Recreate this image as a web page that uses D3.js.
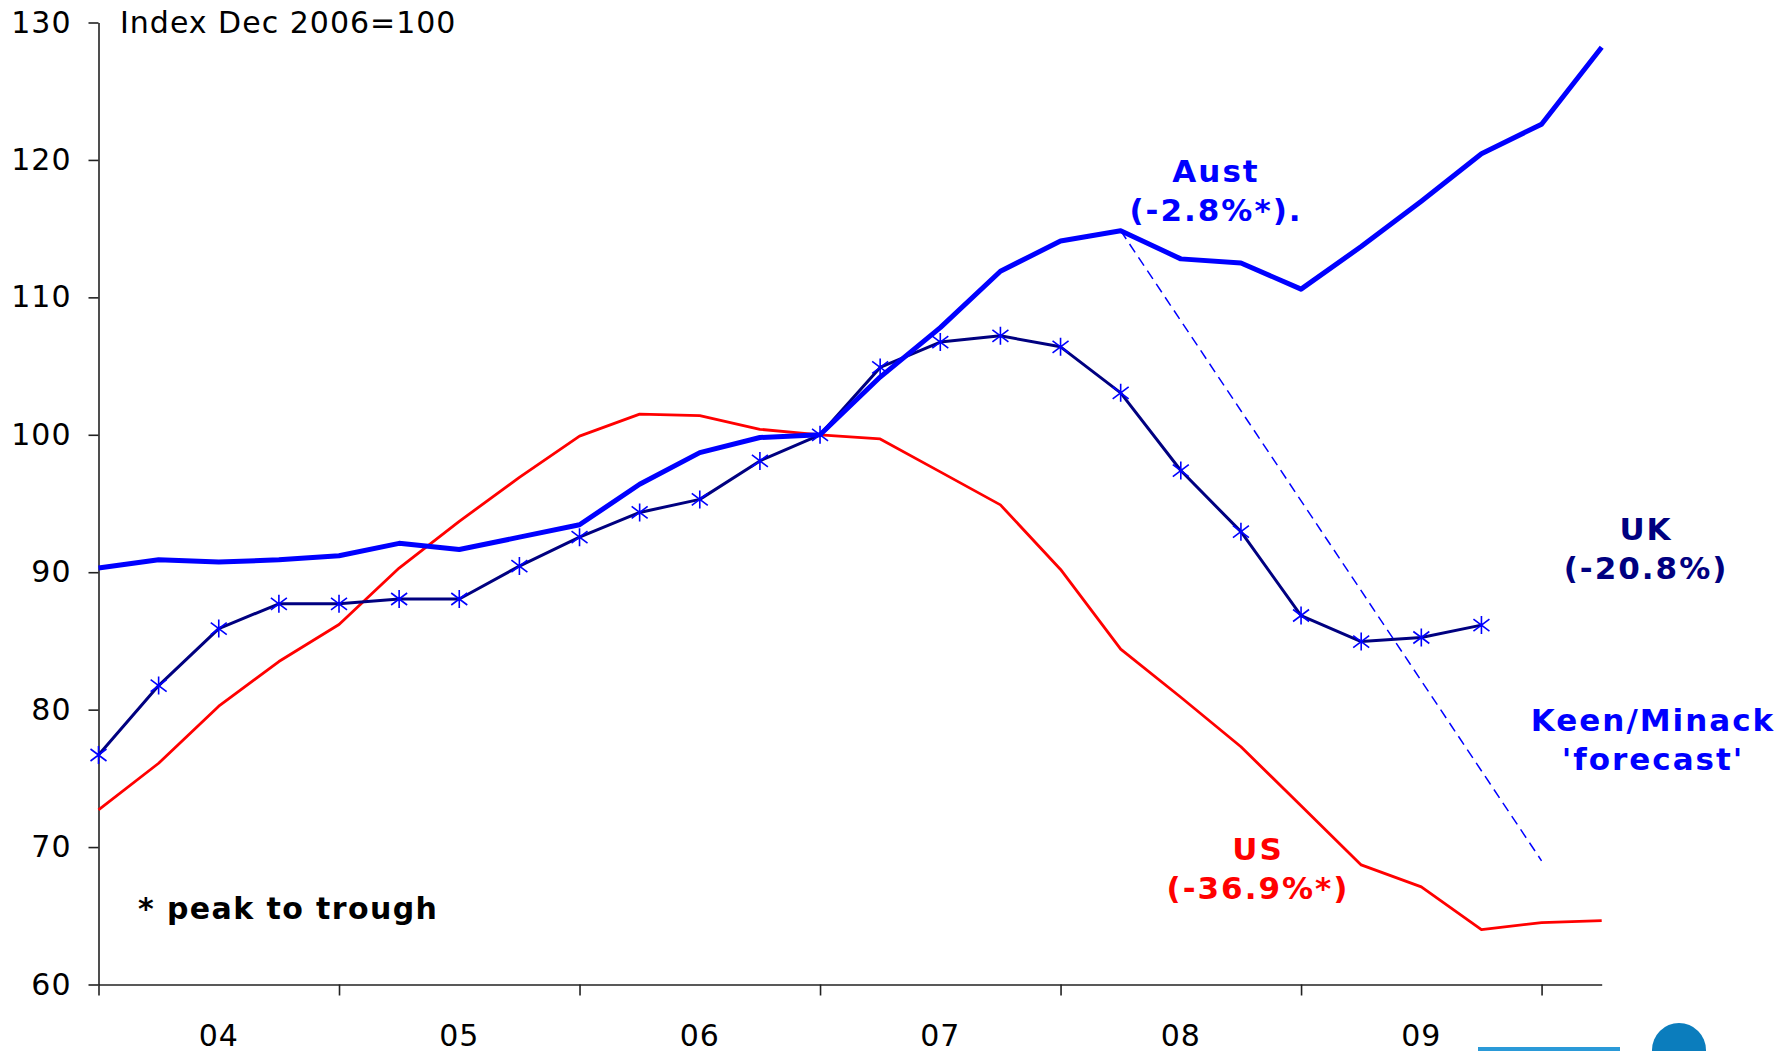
<!DOCTYPE html>
<html>
<head>
<meta charset="utf-8">
<script src="https://cdn.jsdelivr.net/npm/d3@7"></script>
<style>
	body { margin: 0; background: #fff; }
	text { font-family: "DejaVu Sans", Verdana, sans-serif; }
</style>
</head>
<body>
<div id="wrapper"></div>
<script>
// quarter index: 0 = Dec 2003, 12 = Dec 2006 (=100)
const austQuarters = d3.range(0, 26);
const austValues = [90.3, 90.9, 90.75, 90.9, 91.2, 92.1, 91.65, 92.55, 93.45, 96.4, 98.7, 99.8, 100,
	104.2, 107.8, 111.9, 114.1, 114.85, 112.8, 112.5, 110.6, 113.7, 117.0, 120.45, 122.6, 128.2];

const ukQuarters = d3.range(0, 24);
const ukValues = [76.7, 81.75, 85.9, 87.7, 87.7, 88.05, 88.05, 90.45, 92.55, 94.35, 95.3, 98.1, 100,
	104.9, 106.75, 107.2, 106.4, 103.05, 97.4, 92.95, 86.85, 84.95, 85.25, 86.15];

const usQuarters = d3.range(0, 26);
const usValues = [72.7, 76.1, 80.25, 83.5, 86.2, 90.3, 93.7, 96.9, 99.9, 101.5, 101.4, 100.4, 100,
	99.7, 97.3, 94.9, 90.2, 84.4, 80.9, 77.3, 73.0, 68.7, 67.1, 64.0, 64.5, 64.65];

// Keen/Minack 'forecast' from the Aust peak
const forecastQuarters = [17, 24];
const forecastValues = [114.85, 69.0];

const yearTicks = [0, 4, 8, 12, 16, 20, 24];
const yearLabels = ["04", "05", "06", "07", "08", "09"];
const yTicks = [60, 70, 80, 90, 100, 110, 120, 130];

function drawChart(){
	let dimensions = {
		width: 1790,
		height: 1051,
		margin: { top: 22.5, right: 188.3, bottom: 66.5, left: 98.5 }
	};
	dimensions.boundedWidth = dimensions.width - dimensions.margin.left - dimensions.margin.right;
	dimensions.boundedHeight = dimensions.height - dimensions.margin.top - dimensions.margin.bottom;

	const wrapper = d3.select("#wrapper").append("svg")
		.attr("width", dimensions.width)
		.attr("height", dimensions.height)
		.style("background", "#fff");

	const bounds = wrapper.append("g")
		.attr("transform", `translate(${dimensions.margin.left},${dimensions.margin.top})`);

	const xScaler = d3.scaleLinear().domain([0, 25]).range([0, dimensions.boundedWidth]);
	const yScaler = d3.scaleLinear().domain([60, 130]).range([dimensions.boundedHeight, 0]);

	// axes
	const yAxisGen = d3.axisLeft(yScaler).tickValues(yTicks).tickSize(10).tickPadding(17).tickSizeOuter(0);
	const axisY = bounds.append("g").call(yAxisGen);
	axisY.select(".domain").attr("stroke", "#222").attr("stroke-width", 1.6);
	axisY.selectAll(".tick line").attr("stroke", "#222").attr("stroke-width", 1.6);
	axisY.selectAll(".tick text")
		.attr("font-size", "30px")
		.attr("letter-spacing", "1px")
		.attr("fill", "#000")
		.attr("font-family", "'DejaVu Sans', sans-serif");

	const xAxisGen = d3.axisBottom(xScaler).tickValues(yearTicks).tickSize(11).tickFormat("").tickSizeOuter(0);
	const axisX = bounds.append("g")
		.attr("transform", `translate(0,${dimensions.boundedHeight})`)
		.call(xAxisGen);
	axisX.select(".domain").attr("stroke", "#222").attr("stroke-width", 1.6);
	axisX.selectAll(".tick line").attr("stroke", "#222").attr("stroke-width", 1.6);

	bounds.append("g").selectAll("text")
		.data(yearLabels)
		.enter().append("text")
		.attr("x", (d, i) => xScaler(yearTicks[i] + 2))
		.attr("y", dimensions.boundedHeight + 61)
		.attr("text-anchor", "middle")
		.attr("font-size", "30px")
		.attr("letter-spacing", "1px")
		.text(d => d);

	// lines
	const lineGen = d3.line().x(d => xScaler(d[0])).y(d => yScaler(d[1]));

	bounds.append("path")
		.datum(d3.zip(usQuarters, usValues))
		.attr("d", lineGen)
		.attr("fill", "none")
		.attr("stroke", "#ff0000")
		.attr("stroke-width", 2.8)
		.attr("stroke-linejoin", "round");

	bounds.append("path")
		.datum(d3.zip(ukQuarters, ukValues))
		.attr("d", lineGen)
		.attr("fill", "none")
		.attr("stroke", "#000080")
		.attr("stroke-width", 3)
		.attr("stroke-linejoin", "round");

	bounds.append("path")
		.datum(d3.zip(austQuarters, austValues))
		.attr("d", lineGen)
		.attr("fill", "none")
		.attr("stroke", "#0000ff")
		.attr("stroke-width", 5)
		.attr("stroke-linejoin", "round");

	bounds.append("path")
		.datum(d3.zip(forecastQuarters, forecastValues))
		.attr("d", lineGen)
		.attr("fill", "none")
		.attr("stroke", "#0000ff")
		.attr("stroke-width", 1.5)
		.attr("stroke-dasharray", "10 6");

	// UK star markers
	const star = "M0,-9L0,9M-8,-6L8,6M-8,6L8,-6";
	bounds.append("g").selectAll("path")
		.data(d3.zip(ukQuarters, ukValues))
		.enter().append("path")
		.attr("transform", d => `translate(${xScaler(d[0])},${yScaler(d[1])})`)
		.attr("d", star)
		.attr("stroke", "#0000ff")
		.attr("stroke-width", 1.6)
		.attr("fill", "none");

	// annotations
	wrapper.append("text")
		.attr("x", 120)
		.attr("y", 33)
		.attr("font-size", "30px")
		.attr("letter-spacing", "1px")
		.text("Index Dec 2006=100");

	const notes = [
		{ lines: ["Aust", "(-2.8%*)."], x: 1216, y: 182, color: "#0000ff" },
		{ lines: ["UK", "(-20.8%)"], x: 1646, y: 540, color: "#000080" },
		{ lines: ["Keen/Minack", "'forecast'"], x: 1653, y: 731, color: "#0000ff" },
		{ lines: ["US", "(-36.9%*)"], x: 1258, y: 860, color: "#ff0000" }
	];
	notes.forEach(n => {
		n.lines.forEach((t, i) => {
			wrapper.append("text")
				.attr("x", n.x)
				.attr("y", n.y + i * 39)
				.attr("text-anchor", "middle")
				.attr("font-size", "31px")
				.attr("font-weight", "bold")
				.attr("letter-spacing", "2px")
				.attr("fill", n.color)
				.text(t);
		});
	});

	wrapper.append("text")
		.attr("x", 138)
		.attr("y", 919)
		.attr("font-size", "30px")
		.attr("font-weight", "bold")
		.attr("letter-spacing", "1.4px")
		.attr("fill", "#000")
		.text("* peak to trough");

	// partial logo cut off at the bottom right
	const logo = wrapper.append("g");
	logo.append("circle").attr("cx", 1679).attr("cy", 1050).attr("r", 27).attr("fill", "#0b7dbd");
	logo.append("rect").attr("x", 1478).attr("y", 1047).attr("width", 142).attr("height", 6).attr("fill", "#2a9ad8");
}

drawChart();
</script>
</body>
</html>
